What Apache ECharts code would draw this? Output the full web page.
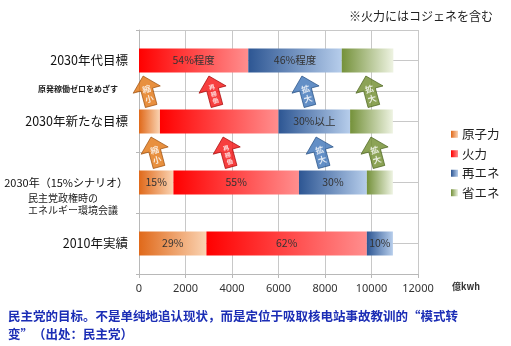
<!DOCTYPE html>
<html><head><meta charset="utf-8">
<script src="https://cdn.jsdelivr.net/npm/echarts@6/dist/echarts.min.js"></script>
<style>html,body{margin:0;padding:0;background:#fff}#c{width:511px;height:346px}</style>
</head><body><div id="c"></div>
<script>
// Power supply mix (億kWh), rows listed bottom to top
const categories = ['2010年実績', '2030年（15%シナリオ）', '2030年新たな目標', '2030年代目標'];
const seriesNames = ['原子力', '火力', '再エネ', '省エネ'];
const nuclear   = [2900, 1480, 900, 0];
const thermal   = [6900, 5400, 5100, 4700];
const renewable = [1120, 2920, 3080, 4020];
const saving    = [0, 1120, 1840, 2220];
const nuclearLabels   = ['29%', '15%', '', ''];
const thermalLabels   = ['62%', '55%', '', '54%程度'];
const renewableLabels = ['10%', '30%', '30%以上', '46%程度'];
const savingLabels    = ['', '', '', ''];
const xMin = 0, xMax = 12000, xStep = 2000;

// Change arrows between rows: x value, row level (0..8 scale), text
const arrowX     = [350, 3180, 7180, 9930, 690, 3790, 7790, 10150];
const arrowLevel = [6, 6, 6, 6, 4, 4, 4, 4];
const arrowText  = ['縮\n小', '再\n稼\n働', '拡\n大', '拡\n大', '縮\n小', '再\n稼\n働', '拡\n大', '拡\n大'];
const arrowKind  = [0, 1, 2, 3, 0, 1, 2, 3];

const grad = (a, b) => new echarts.graphic.LinearGradient(0, 0, 1, 0, [
  { offset: 0, color: a }, { offset: 1, color: b }
]);
const fills = [
  grad('#E0691A', '#FAD3B2'),
  grad('#FF0000', '#FF8E8E'),
  grad('#2D5693', '#B6CDEB'),
  grad('#74913A', '#EEF3E2')
];
const arrowFill = ['#E2740F', '#F50F0F', '#3C73B8', '#6F8C2C'];
const arrowEdge = ['#9A4A08', '#A00000', '#1F4A80', '#46601A'];
const arrowPath = 'path://M14,0 L28,14 L20,14 L20,31 L8,31 L8,14 L0,14 Z';

const values = [nuclear, thermal, renewable, saving];
const labels = [nuclearLabels, thermalLabels, renewableLabels, savingLabels];

const barSeries = seriesNames.map((name, i) => ({
  name, type: 'bar', stack: 'mix', barWidth: 24,
  data: values[i],
  itemStyle: { color: fills[i] },
  label: {
    show: true, position: 'inside', color: '#333', fontSize: 10.5,
    fontFamily: 'Noto Sans CJK JP',
    formatter: p => labels[i][p.dataIndex]
  },
  emphasis: { disabled: true }
}));

const arrowSeries = {
  type: 'scatter', yAxisIndex: 1, symbol: arrowPath, symbolSize: [28, 31],
  symbolRotate: 15, z: 5, silent: true,
  data: arrowX.map((x, i) => ({
    value: [x, arrowLevel[i]],
    itemStyle: { color: arrowFill[arrowKind[i]], borderColor: arrowEdge[arrowKind[i]], borderWidth: 0.8 },
    label: {
      show: true, position: 'inside', formatter: arrowText[i], rotate: 15,
      color: '#fff', fontWeight: 'bold', fontFamily: 'Noto Sans CJK JP',
      fontSize: arrowKind[i] === 1 ? 6 : 8.5, lineHeight: arrowKind[i] === 1 ? 7 : 10,
      offset: [0, 3]
    }
  }))
};

const chart = echarts.init(document.getElementById('c'), null, { renderer: 'canvas' });
chart.setOption({
  animation: false,
  textStyle: { fontFamily: 'Noto Sans CJK JP' },
  title: {
    text: '※火力にはコジェネを含む', right: 13, top: 5,
    textStyle: { fontSize: 12, fontWeight: 'normal', color: '#222', fontFamily: 'Noto Sans CJK JP' }
  },
  legend: {
    data: seriesNames, orient: 'vertical', left: 446, top: 123,
    itemWidth: 7, itemHeight: 7, itemGap: 7, icon: 'rect',
    textStyle: { fontSize: 12.5, color: '#222', padding: [0, 0, 0, -1] }
  },
  grid: { left: 139, right: 93, top: 30, bottom: 72, containLabel: false, outerBoundsMode: 'none' },
  xAxis: {
    type: 'value', min: xMin, max: xMax, interval: xStep,
    name: '億kwh', nameLocation: 'end', nameGap: 34,
    nameTextStyle: { fontSize: 9, fontWeight: 'bold', color: '#333', verticalAlign: 'top', padding: [8, 0, 0, 0] },
    axisLine: { show: true, lineStyle: { color: '#B8B8B8' } },
    axisTick: { show: true, length: 4, lineStyle: { color: '#B8B8B8' } },
    axisLabel: { fontSize: 11, color: '#333', margin: 9, fontFamily: 'Noto Sans', formatter: v => String(v) },
    splitLine: { show: true, lineStyle: { color: '#C8C8C8' } }
  },
  yAxis: [{
    type: 'category', data: categories,
    axisLine: { show: true, lineStyle: { color: '#B8B8B8' } },
    axisTick: { show: true, length: 3, lineStyle: { color: '#B8B8B8' } },
    axisLabel: {
      fontSize: 12.5, color: '#111', margin: 11,
      formatter: v => v.length > 10 ? '{s|' + v + '}' : v,
      rich: { s: { fontSize: 11, color: '#111', fontFamily: 'Noto Sans CJK JP' } }
    },
    splitLine: { show: false }
  }, {
    type: 'value', min: 0, max: 8, interval: 1, position: 'right',
    axisLine: { show: false }, axisTick: { show: false }, axisLabel: { show: false },
    splitLine: { show: true, lineStyle: { color: '#C8C8C8' } }
  }],
  series: [...barSeries, arrowSeries],
  graphic: [
    { type: 'text', left: 38, top: 85,
      style: { text: '原発稼働ゼロをめざす', fontSize: 8, fontWeight: 'bold', fill: '#222', fontFamily: 'Noto Sans CJK JP' } },
    { type: 'text', left: 28, top: 192,
      style: { text: '民主党政権時の\nエネルギー環境会議', fontSize: 10, lineHeight: 12, fill: '#222', fontFamily: 'Noto Sans CJK JP' } },
    { type: 'text', left: 8, top: 307,
      style: { text: '民主党的目标。不是单纯地追认现状，而是定位于吸取核电站事故教训的“模式转\n变”（出处：民主党）',
        fontSize: 12.5, lineHeight: 18, fontWeight: 'bold', fill: '#1B2DB5', fontFamily: 'Noto Sans CJK SC' } }
  ]
});
</script>
</body></html>
